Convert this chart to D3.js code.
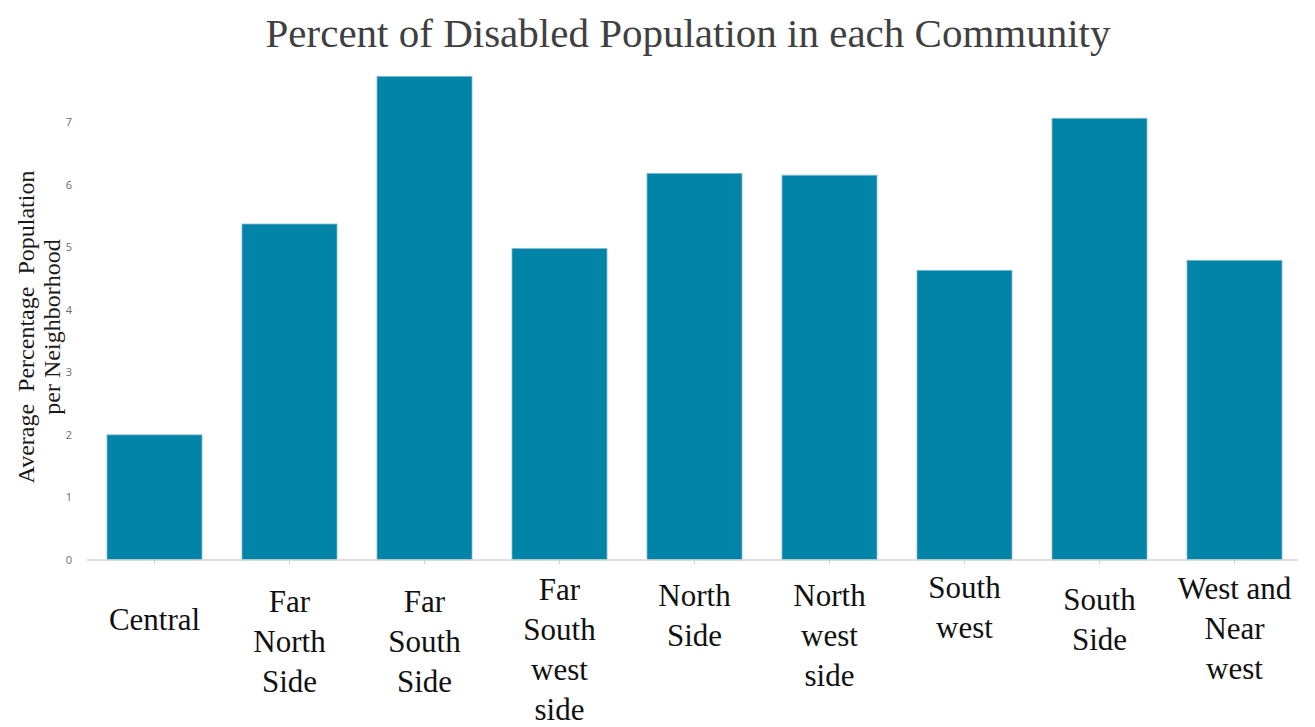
<!DOCTYPE html>
<html>
<head>
<meta charset="utf-8">
<script src="https://d3js.org/d3.v7.min.js"></script>
<style>
body { margin: 0; background: #fff; }
.title { font: 41px "Liberation Serif", serif; fill: #404040; }
.ylabel { font: 24px "Liberation Serif", serif; fill: #1a1a1a; white-space: pre; }
.y.axis text { font: 11px "Open Sans", sans-serif; fill: #6b6b6b; }
.xlab { font: 31px "Liberation Serif", serif; fill: #111; }
</style>
</head>
<body>
<script>

var communities = ["Central", "Far North Side", "Far South Side", "Far South west side",
    "North Side", "North west side", "South west", "South Side", "West and Near west"];

var labelLines = [
    ["Central"],
    ["Far", "North", "Side"],
    ["Far", "South", "Side"],
    ["Far", "South", "west", "side"],
    ["North", "Side"],
    ["North", "west", "side"],
    ["South", "west"],
    ["South", "Side"],
    ["West and", "Near", "west"]
];

var pctDisabled = [2.0, 5.37, 7.73, 4.98, 6.18, 6.15, 4.63, 7.06, 4.79];

var yTicks = [0, 1, 2, 3, 4, 5, 6, 7];

var width = 1315, height = 727;

var svg = d3.select("body").append("svg")
    .attr("width", width)
    .attr("height", height);

var xScale = d3.scaleBand()
    .domain(communities)
    .range([87, 1302])
    .paddingInner(0.296)
    .paddingOuter(0.148);

var yScale = d3.scaleLinear()
    .domain([0, 7])
    .range([560, 122]);

// y axis, labels only
var yAxis = d3.axisLeft(yScale)
    .tickValues(yTicks)
    .tickFormat(d3.format("d"))
    .tickSize(0)
    .tickPadding(0);

svg.append("g")
    .attr("class", "y axis")
    .attr("transform", "translate(72,0)")
    .call(yAxis)
    .call(function(g) { g.select(".domain").remove(); });

// bars
svg.selectAll(".bar")
    .data(pctDisabled)
  .enter().append("rect")
    .attr("class", "bar")
    .attr("x", function(d, i) { return xScale(communities[i]); })
    .attr("y", function(d) { return yScale(d); })
    .attr("width", xScale.bandwidth())
    .attr("height", function(d) { return yScale(0) - yScale(d); })
    .style("fill", "#0284a8")
    .style("stroke", "#8cbfcf")
    .style("stroke-width", 0.8);

// x axis line + small ticks
var xAxis = d3.axisBottom(xScale)
    .tickSize(4)
    .tickSizeOuter(0)
    .tickFormat("");

svg.append("g")
    .attr("class", "x axis")
    .attr("transform", "translate(0," + yScale(0) + ")")
    .call(xAxis)
    .call(function(g) {
        g.select(".domain").attr("stroke", "#d6d6d6").attr("stroke-width", 1.5)
            .attr("d", "M87,0H1298");
        g.selectAll(".tick line").attr("stroke", "#d0d0d0");
    });

// category labels, a few lines each
var firstBaseline = [70, 52, 52, 40, 46, 46, 38, 50, 39];

svg.selectAll(".xlab")
    .data(labelLines)
  .enter().append("text")
    .attr("class", "xlab")
    .attr("text-anchor", "middle")
    .attr("transform", function(d, i) {
        return "translate(" + (xScale(communities[i]) + xScale.bandwidth() / 2) + "," + (yScale(0) + firstBaseline[i]) + ")";
    })
  .selectAll("tspan")
    .data(function(d) { return d; })
  .enter().append("tspan")
    .attr("x", 0)
    .attr("y", function(d, i) { return i * 40; })
    .text(function(d) { return d; });

// y axis title
var yTitle = svg.append("text")
    .attr("class", "ylabel")
    .attr("text-anchor", "middle")
    .attr("transform", "translate(34,327) rotate(-90)");
yTitle.append("tspan").attr("x", 0).attr("y", 0).text("Average  Percentage  Population");
yTitle.append("tspan").attr("x", 0).attr("y", 26).text("per Neighborhood");

svg.append("text")
    .attr("class", "title")
    .attr("x", 688)
    .attr("y", 47)
    .attr("text-anchor", "middle")
    .text("Percent of Disabled Population in each Community");

</script>
</body>
</html>
